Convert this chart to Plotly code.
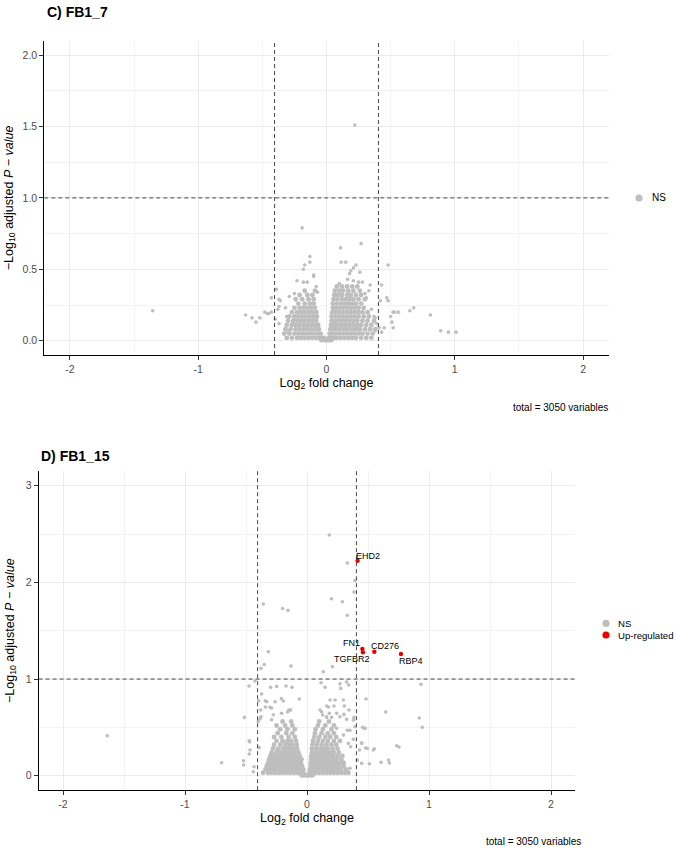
import plotly.graph_objects as go

W, H = 677, 847
FONT = "Liberation Sans, Arial, sans-serif"
NS_COLOR = "#BEBEBE"
UP_COLOR = "#EE0000"

# ---------------- Panel C) FB1_7 : all points NS ----------------
# scattered points (log2FC, -log10 adj p)
C_OUT_X = [0.22, -0.19, 0.27, 0.11, -0.13, -0.13, -0.17, -0.18, -0.10, 0.115, 0.15, 0.23, 0.26, 0.19, 0.21,
           0.48, 0.43, 0.42, 0.47, 0.48, 0.52, 0.56, 0.65, 0.68, 0.81, 0.89, 0.95, 1.01, -0.63, -0.58,
           -0.55, -0.52, -0.48, -0.45, -0.43, -0.39, -1.355, 0.50, 0.51, 0.45, 0.43, 0.41, 0.38, -0.38, -0.37,
           -0.40, -0.37, -0.23, -0.23, -0.18, -0.15, -0.08, -0.07, -0.29, -0.25, 0.18, 0.10, 0.165, 0.21, 0.25,
           0.28, 0.34, 0.33, 0.30, 0.31, 0.35, 0.37, 0.39, 0.38, -0.30, -0.31, -0.32, -0.37, -0.10, -0.43,
           -0.46, -0.36, 0.53, 0.52]
C_OUT_Y = [1.51, 0.79, 0.68, 0.65, 0.59, 0.55, 0.53, 0.50, 0.46, 0.55, 0.55, 0.53, 0.48, 0.49, 0.51,
           0.53, 0.39, 0.28, 0.30, 0.28, 0.20, 0.20, 0.21, 0.23, 0.18, 0.07, 0.06, 0.06, 0.18, 0.16,
           0.13, 0.16, 0.20, 0.19, 0.30, 0.36, 0.21, 0.17, 0.13, 0.09, 0.06, 0.09, 0.16, 0.22, 0.29,
           0.15, 0.12, 0.02, 0.42, 0.41, 0.41, 0.38, 0.34, 0.31, 0.33, 0.47, 0.40, 0.43, 0.42, 0.41,
           0.41, 0.39, 0.35, 0.33, 0.30, 0.22, 0.17, 0.12, 0.07, 0.06, 0.17, 0.23, 0.24, 0.45, 0.20,
           0.19, 0.28, 0.20, 0.09]

# dense core of the volcano, read row by row (row level = -log10 adj p)
C_CORE_Y = [0.005, 0.02, 0.05, 0.08, 0.11, 0.14, 0.17, 0.20, 0.23, 0.26, 0.29, 0.32, 0.35, 0.38]
C_CORE_X = [
    [-0.04, -0.025, -0.012, 0.0, 0.012, 0.025, 0.04],
    [-0.31, -0.27, -0.23, -0.20, -0.17, -0.14, -0.11, -0.08, -0.055, -0.035, -0.02, 0.02, 0.035, 0.055, 0.08, 0.11, 0.14, 0.17, 0.20, 0.23, 0.27, 0.31, 0.35],
    [-0.33, -0.29, -0.25, -0.22, -0.19, -0.16, -0.13, -0.10, -0.07, -0.045, 0.025, 0.045, 0.07, 0.10, 0.13, 0.16, 0.19, 0.22, 0.25, 0.28, 0.32, 0.36],
    [-0.32, -0.28, -0.24, -0.21, -0.18, -0.15, -0.12, -0.09, -0.06, 0.03, 0.055, 0.08, 0.11, 0.14, 0.17, 0.20, 0.23, 0.26, 0.30, 0.34, 0.38],
    [-0.31, -0.27, -0.24, -0.21, -0.18, -0.15, -0.12, -0.09, -0.065, 0.035, 0.06, 0.09, 0.12, 0.15, 0.18, 0.21, 0.24, 0.27, 0.31, 0.35],
    [-0.30, -0.26, -0.23, -0.20, -0.17, -0.14, -0.11, -0.08, 0.04, 0.065, 0.09, 0.12, 0.15, 0.18, 0.21, 0.24, 0.28, 0.32, 0.37],
    [-0.29, -0.25, -0.22, -0.19, -0.16, -0.13, -0.10, -0.075, 0.04, 0.07, 0.10, 0.13, 0.16, 0.19, 0.22, 0.25, 0.29, 0.33],
    [-0.27, -0.23, -0.20, -0.17, -0.14, -0.11, -0.08, 0.045, 0.07, 0.10, 0.13, 0.16, 0.19, 0.22, 0.25, 0.28, 0.32],
    [-0.25, -0.21, -0.18, -0.15, -0.12, -0.09, 0.05, 0.075, 0.10, 0.13, 0.16, 0.19, 0.22, 0.25, 0.29],
    [-0.22, -0.17, -0.13, -0.10, 0.05, 0.08, 0.11, 0.14, 0.17, 0.20, 0.23, 0.27],
    [-0.24, -0.19, -0.14, -0.10, 0.055, 0.085, 0.12, 0.15, 0.18, 0.21, 0.25, 0.30],
    [-0.21, -0.15, -0.11, 0.06, 0.09, 0.12, 0.16, 0.19, 0.23, 0.27],
    [-0.17, -0.09, 0.065, 0.10, 0.13, 0.17, 0.21, 0.26],
    [0.08, 0.12, 0.16, 0.20, 0.24],
]

# ---------------- Panel D) FB1_15 ----------------
D_OUT_X = [0.183, 0.33, 0.393, 0.385, 0.20, 0.29, 0.33, -0.20, -0.156, -0.358, -0.317, -0.35, -0.377, -0.131,
           0.134, 0.208, -0.426, -0.475, 0.115, 0.148, 0.325, 0.342, 0.276, 0.934, 0.484, 0.645, 0.92, 0.945,
           0.456, 0.473, 0.448, 0.481, 0.552, 0.735, 0.754, 0.607, 0.669, 0.675, 0.511, -0.70, -0.52, -0.52,
           -0.44, -0.473, -0.473, -0.514, -0.377, -0.393, -0.298, -0.249, -0.172, -0.123, -0.372, -0.342,
           -0.303, -0.21, -0.194, -0.15, -0.134, -0.158, -0.063, 0.189, 0.23, 0.161, 0.221, 0.298, 0.306,
           0.107, 0.128, 0.161, 0.202, 0.344, 0.385, 0.393, 0.243, -1.637, 0.27, -0.396, -0.33, -0.262,
           -0.34, -0.38, -0.385, -0.40, -0.29, -0.276, -0.29, -0.208, -0.139, 0.12, 0.175, 0.183, 0.16,
           0.243, 0.27, 0.303, 0.325, 0.38, 0.352, 0.475, -0.47, -0.467, -0.434, 0.43, 0.448, 0.494, 0.544,
           0.339, 0.358, 0.38, 0.33, 0.298, 0.448, 0.413, 0.352]
D_OUT_Y = [2.49, 2.20, 2.02, 1.90, 1.83, 1.80, 1.66, 1.73, 1.71, 1.776, 1.283, 1.15, 1.11, 1.134,
           1.076, 1.128, 0.979, 0.928, 0.962, 0.914, 0.969, 0.938, 0.903, 0.945, 0.793, 0.659, 0.597, 0.50,
           0.50, 0.49, 0.334, 0.286, 0.279, 0.31, 0.297, 0.138, 0.162, 0.131, 0.124, 0.134, 0.155, 0.11,
           0.041, 0.224, 0.362, 0.603, 0.61, 0.29, 0.914, 0.924, 0.928, 0.914, 0.845, 0.776,
           0.707, 0.797, 0.772, 0.679, 0.679, 0.659, 0.793, 0.783, 0.783, 0.721, 0.721, 0.783, 0.721,
           0.679, 0.628, 0.603, 0.603, 0.679, 0.603, 0.507, 0.49, 0.414, 0.95, 0.776, 0.765, 0.765,
           0.71, 0.68, 0.59, 0.56, 0.70, 0.63, 0.58, 0.645, 0.68, 0.66, 0.71, 0.645, 0.61,
           0.645, 0.61, 0.634, 0.583, 0.576, 0.47, 0.49, 0.35, 0.266, 0.093, 0.266, 0.341, 0.283, 0.266,
           0.334, 0.30, 0.376, 0.47, 0.42, 0.128, 0.162, 0.076]

D_CORE_Y = [0.005, 0.03, 0.065, 0.10, 0.135, 0.17, 0.205, 0.24, 0.28, 0.32, 0.36, 0.40, 0.44, 0.48, 0.52, 0.56]
D_CORE_X = [
    [-0.045, -0.03, -0.015, 0.0, 0.015, 0.03, 0.045],
    [-0.36, -0.32, -0.29, -0.26, -0.23, -0.20, -0.17, -0.14, -0.11, -0.08, -0.055, -0.03, 0.02, 0.045, 0.07, 0.10, 0.13, 0.16, 0.19, 0.22, 0.25, 0.28, 0.31, 0.34],
    [-0.34, -0.31, -0.28, -0.25, -0.22, -0.19, -0.16, -0.13, -0.10, -0.075, -0.05, -0.03, 0.025, 0.05, 0.075, 0.10, 0.13, 0.16, 0.19, 0.22, 0.25, 0.28, 0.32],
    [-0.33, -0.30, -0.27, -0.24, -0.21, -0.18, -0.15, -0.12, -0.09, -0.065, -0.04, 0.03, 0.055, 0.08, 0.11, 0.14, 0.17, 0.20, 0.23, 0.26, 0.30],
    [-0.32, -0.29, -0.26, -0.23, -0.20, -0.17, -0.14, -0.11, -0.08, -0.05, 0.03, 0.06, 0.09, 0.12, 0.15, 0.18, 0.21, 0.24, 0.27, 0.30],
    [-0.31, -0.28, -0.25, -0.22, -0.19, -0.16, -0.13, -0.10, -0.07, -0.045, 0.035, 0.06, 0.09, 0.12, 0.15, 0.18, 0.21, 0.24, 0.28],
    [-0.30, -0.27, -0.24, -0.21, -0.18, -0.15, -0.12, -0.09, -0.06, 0.035, 0.065, 0.095, 0.125, 0.155, 0.185, 0.215, 0.25, 0.29],
    [-0.29, -0.25, -0.22, -0.19, -0.16, -0.13, -0.10, -0.07, 0.04, 0.07, 0.10, 0.13, 0.16, 0.19, 0.22, 0.26],
    [-0.28, -0.24, -0.20, -0.17, -0.14, -0.11, -0.08, 0.04, 0.075, 0.11, 0.14, 0.17, 0.21, 0.25],
    [-0.27, -0.22, -0.18, -0.15, -0.12, -0.085, 0.045, 0.08, 0.12, 0.16, 0.20, 0.24],
    [-0.25, -0.20, -0.16, -0.13, -0.09, 0.05, 0.09, 0.13, 0.17, 0.22, 0.27],
    [-0.27, -0.21, -0.15, -0.10, 0.06, 0.10, 0.15, 0.19, 0.24],
    [-0.24, -0.17, -0.12, 0.065, 0.12, 0.17, 0.22],
    [-0.22, -0.16, -0.10, 0.07, 0.13, 0.20],
    [-0.25, -0.18, -0.12, 0.09, 0.15, 0.22],
    [-0.20, -0.13, 0.10, 0.18],
]

# up-regulated (labelled) genes in D
UP_GENES = ["EHD2", "FN1", "TGFBR2", "CD276", "RBP4"]
UP_X = [0.415, 0.454, 0.459, 0.552, 0.770]
UP_Y = [2.223, 1.310, 1.276, 1.283, 1.259]
UP_LABEL_DX = [10, -11, -11, 11, 10]     # label offset in px (styling)
UP_LABEL_DY = [-5, -6, 7, -6, 7]

FC_CUT = 0.405
P_CUT = 1.0
X_TICKS = [-2, -1, 0, 1, 2]
X_TICKTEXT = ["-2", "-1", "0", "1", "2"]
C_Y_TICKS = [0.0, 0.5, 1.0, 1.5, 2.0]
C_Y_TICKTEXT = ["0.0", "0.5", "1.0", "1.5", "2.0"]
D_Y_TICKS = [0, 1, 2, 3]


def flatten(rows_y, rows_x):
    xs, ys = [], []
    for y, row in zip(rows_y, rows_x):
        for x in row:
            xs.append(x)
            ys.append(y)
    return xs, ys


c_core_x, c_core_y = flatten(C_CORE_Y, C_CORE_X)
d_core_x, d_core_y = flatten(D_CORE_Y, D_CORE_X)

fig = go.Figure()
ns_out = dict(size=3.6, color=NS_COLOR, line=dict(width=0))
ns_core = dict(size=4.9, color=NS_COLOR, line=dict(width=0))
fig.add_trace(go.Scatter(x=C_OUT_X, y=C_OUT_Y, mode="markers", xaxis="x", yaxis="y", marker=ns_out,
                         showlegend=False, hoverinfo="skip", name="NS"))
fig.add_trace(go.Scatter(x=c_core_x, y=c_core_y, mode="markers", xaxis="x", yaxis="y", marker=ns_core,
                         showlegend=False, hoverinfo="skip", name="NS"))
fig.add_trace(go.Scatter(x=D_OUT_X, y=D_OUT_Y, mode="markers", xaxis="x2", yaxis="y2", marker=ns_out,
                         showlegend=False, hoverinfo="skip", name="NS"))
fig.add_trace(go.Scatter(x=d_core_x, y=d_core_y, mode="markers", xaxis="x2", yaxis="y2", marker=ns_core,
                         showlegend=False, hoverinfo="skip", name="NS"))
fig.add_trace(go.Scatter(x=UP_X, y=UP_Y, mode="markers", xaxis="x2", yaxis="y2",
                         marker=dict(size=4.4, color=UP_COLOR, line=dict(width=0)),
                         showlegend=False, hoverinfo="skip", name="Up-regulated"))


def px2x(p):
    return p / W


def px2y(p):
    return 1 - p / H


axis_common = dict(showline=True, linecolor="black", linewidth=1, ticks="outside", ticklen=4,
                   tickwidth=1, tickcolor="#333333", zeroline=False, showgrid=True,
                   gridcolor="#EBEBEB", gridwidth=1.1,
                   tickfont=dict(family=FONT, size=10.5, color="#4D4D4D"))

x_title = dict(text="Log<sub>2</sub> fold change", font=dict(family=FONT, size=12.5, color="black"), standoff=4)
y_title = dict(text="\u2212Log<sub>10</sub> adjusted <i>P</i> \u2212 <i>value</i>",
               font=dict(family=FONT, size=12.5, color="black"), standoff=6)

fig.update_layout(
    width=W, height=H, margin=dict(l=0, r=0, t=0, b=0),
    paper_bgcolor="white", plot_bgcolor="white", showlegend=False,
    font=dict(family=FONT),
    xaxis=dict(axis_common, domain=[px2x(44.3), px2x(608.7)], range=[-2.2, 2.2], anchor="y",
               tickmode="array", tickvals=X_TICKS, ticktext=X_TICKTEXT,
               minor=dict(tickvals=[-1.5, -0.5, 0.5, 1.5], showgrid=True, gridcolor="#F3F3F3", gridwidth=0.6, ticks=""),
               title=x_title),
    yaxis=dict(axis_common, domain=[px2y(355), px2y(40.8)], range=[-0.1, 2.1], anchor="x",
               tickmode="array", tickvals=C_Y_TICKS, ticktext=C_Y_TICKTEXT,
               minor=dict(tickvals=[0.25, 0.75, 1.25, 1.75], showgrid=True, gridcolor="#F3F3F3", gridwidth=0.6, ticks=""),
               title=y_title),
    xaxis2=dict(axis_common, domain=[px2x(38.6), px2x(575.4)], range=[-2.2, 2.2], anchor="y2",
                tickmode="array", tickvals=X_TICKS, ticktext=X_TICKTEXT,
                minor=dict(tickvals=[-1.5, -0.5, 0.5, 1.5], showgrid=True, gridcolor="#F3F3F3", gridwidth=0.6, ticks=""),
                title=x_title),
    yaxis2=dict(axis_common, domain=[px2y(790.2), px2y(471.2)], range=[-0.15, 3.15], anchor="x2",
                tickmode="array", tickvals=D_Y_TICKS, ticktext=[str(v) for v in D_Y_TICKS],
                minor=dict(tickvals=[0.5, 1.5, 2.5], showgrid=True, gridcolor="#F3F3F3", gridwidth=0.6, ticks=""),
                title=dict(y_title, standoff=8)),
)

dash_line = dict(color="#333333", width=0.9, dash="4px,3px")
shapes = []
for xa, ya in (("x", "y"), ("x2", "y2")):
    for v in (-FC_CUT, FC_CUT):
        shapes.append(dict(type="line", xref=xa, yref=ya + " domain", x0=v, x1=v, y0=0, y1=1, line=dash_line, layer="above"))
    shapes.append(dict(type="line", xref=xa + " domain", yref=ya, x0=0, x1=1, y0=P_CUT, y1=P_CUT, line=dash_line, layer="above"))

# legend keys (drawn as shapes in pixel size)
legend_items = [(639, 198, NS_COLOR, "NS", 651, 10),
                (606, 623.3, NS_COLOR, "NS", 617, 9.6),
                (606, 635, UP_COLOR, "Up-regulated", 617, 9.6)]
annotations = []
for cx, cy, col, label, tx, fs in legend_items:
    shapes.append(dict(type="circle", xref="paper", yref="paper", xsizemode="pixel", ysizemode="pixel",
                       xanchor=px2x(cx), yanchor=px2y(cy), x0=-3.6, x1=3.6, y0=-3.6, y1=3.6,
                       fillcolor=col, line=dict(width=0)))
    annotations.append(dict(xref="paper", yref="paper", x=px2x(tx), y=px2y(cy), text=label, showarrow=False,
                            xanchor="left", yanchor="middle", borderpad=0,
                            font=dict(family=FONT, size=fs, color="black")))

# panel titles and captions
annotations += [
    dict(xref="paper", yref="paper", x=px2x(45), y=px2y(12), text="<b>C) FB1_7</b>", showarrow=False,
         xanchor="left", yanchor="middle", font=dict(family=FONT, size=14, color="black")),
    dict(xref="paper", yref="paper", x=px2x(39), y=px2y(456), text="<b>D) FB1_15</b>", showarrow=False,
         xanchor="left", yanchor="middle", font=dict(family=FONT, size=14, color="black")),
    dict(xref="paper", yref="paper", x=px2x(610), y=px2y(407.5), text="total = 3050 variables", showarrow=False,
         xanchor="right", yanchor="middle", font=dict(family=FONT, size=10, color="black")),
    dict(xref="paper", yref="paper", x=px2x(583), y=px2y(841), text="total = 3050 variables", showarrow=False,
         xanchor="right", yanchor="middle", font=dict(family=FONT, size=10, color="black")),
]

# gene labels
for g, gx, gy, dx, dy in zip(UP_GENES, UP_X, UP_Y, UP_LABEL_DX, UP_LABEL_DY):
    annotations.append(dict(xref="x2", yref="y2", x=gx, y=gy, text=g, showarrow=True, arrowhead=0,
                            arrowwidth=0.5, arrowcolor="black", ax=dx, ay=dy, standoff=0, startstandoff=0,
                            font=dict(family=FONT, size=9, color="black")))

fig.update_layout(shapes=shapes, annotations=annotations)
fig.write_html("out.html")
